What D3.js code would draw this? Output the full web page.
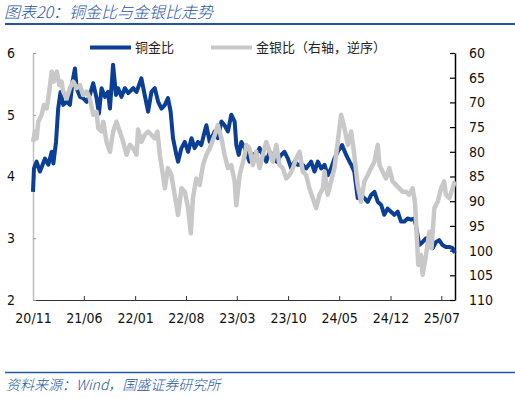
<!DOCTYPE html>
<html>
<head>
<meta charset="utf-8">
<script src="https://cdn.jsdelivr.net/npm/d3@7"></script>
<style>
body { margin: 0; background: #fff; }
svg { display: block; }
.tick text { font-family: "DejaVu Sans Condensed", "DejaVu Sans", sans-serif; font-size: 14px; fill: #111; }
.cn { font-family: "Noto Sans CJK SC", sans-serif; }
</style>
</head>
<body>
<svg id="chart"></svg>
<script>
// 铜金比 (left axis)
const cgDates = ["2020-11-01","2020-11-05","2020-11-16","2020-11-30","2020-12-21","2021-01-04","2021-01-18","2021-01-25","2021-02-05","2021-02-14","2021-02-24","2021-03-07","2021-03-21","2021-04-04","2021-04-15","2021-04-25","2021-05-02","2021-05-16","2021-05-29","2021-06-13","2021-06-26","2021-07-10","2021-07-24","2021-08-03","2021-08-14","2021-08-28","2021-09-10","2021-09-18","2021-10-01","2021-10-13","2021-10-22","2021-11-05","2021-11-19","2021-12-03","2021-12-24","2022-01-07","2022-01-27","2022-02-10","2022-02-24","2022-03-10","2022-03-24","2022-04-07","2022-04-21","2022-05-05","2022-05-18","2022-05-29","2022-06-08","2022-06-22","2022-06-29","2022-07-13","2022-07-27","2022-08-10","2022-08-24","2022-09-06","2022-09-20","2022-10-04","2022-10-18","2022-10-25","2022-11-08","2022-11-29","2022-12-12","2022-12-27","2023-01-09","2023-01-23","2023-02-06","2023-02-20","2023-02-27","2023-03-09","2023-03-20","2023-04-03","2023-04-23","2023-05-07","2023-05-28","2023-06-04","2023-06-18","2023-07-02","2023-07-16","2023-07-29","2023-08-13","2023-09-02","2023-09-16","2023-09-30","2023-10-14","2023-10-28","2023-11-10","2023-12-01","2023-12-15","2024-01-05","2024-01-19","2024-02-02","2024-02-16","2024-03-01","2024-03-14","2024-03-28","2024-04-11","2024-04-25","2024-05-13","2024-05-30","2024-06-13","2024-06-20","2024-07-03","2024-07-17","2024-07-31","2024-08-14","2024-08-28","2024-09-11","2024-09-25","2024-10-09","2024-10-23","2024-11-05","2024-11-19","2024-12-03","2024-12-17","2024-12-31","2025-01-14","2025-01-28","2025-02-10","2025-02-25","2025-03-10","2025-03-17","2025-03-31","2025-04-14","2025-04-28","2025-05-12","2025-05-26","2025-06-09","2025-06-22","2025-07-06","2025-07-20","2025-08-03","2025-08-17","2025-08-26"];
const cgValues = [3.75,4.13,4.24,4.08,4.29,4.19,4.40,4.21,4.56,5.10,5.37,5.16,5.21,5.16,5.54,5.75,5.43,5.29,5.27,5.21,5.32,5.51,5.27,5.02,5.43,5.29,5.37,5.10,5.81,5.32,5.43,5.29,5.43,5.35,5.43,5.37,5.59,5.32,5.05,5.37,5.43,5.21,5.10,5.16,5.27,5.05,4.62,4.35,4.24,4.46,4.56,4.40,4.62,4.46,4.56,4.51,4.73,4.83,4.56,4.73,4.62,4.89,4.83,4.73,5.00,4.89,4.51,4.35,4.56,4.46,4.24,4.35,4.40,4.46,4.35,4.24,4.40,4.35,4.24,4.35,4.40,4.29,4.13,4.24,4.19,4.19,4.13,4.24,4.08,4.24,4.13,4.19,4.02,4.13,4.29,4.40,4.51,4.35,4.24,4.19,4.08,3.65,3.70,3.65,3.59,3.70,3.75,3.59,3.54,3.38,3.48,3.43,3.38,3.43,3.27,3.27,3.32,3.30,3.32,3.21,2.89,2.94,3.00,2.89,2.84,2.94,2.97,2.89,2.86,2.86,2.84,2.76];

// 金银比 (right axis, reversed)
const gsDates = ["2020-11-01","2020-11-09","2020-11-16","2020-11-23","2020-12-07","2020-12-17","2020-12-28","2021-01-04","2021-01-11","2021-01-18","2021-01-27","2021-02-08","2021-02-19","2021-02-28","2021-03-07","2021-03-21","2021-04-04","2021-04-18","2021-05-02","2021-05-16","2021-05-29","2021-06-13","2021-06-26","2021-07-10","2021-07-24","2021-07-31","2021-08-14","2021-08-21","2021-09-04","2021-09-18","2021-10-01","2021-10-15","2021-10-29","2021-11-12","2021-11-26","2021-12-10","2021-12-24","2022-01-07","2022-01-13","2022-01-27","2022-02-10","2022-02-24","2022-03-10","2022-03-24","2022-04-04","2022-04-14","2022-04-27","2022-05-05","2022-05-18","2022-06-01","2022-06-15","2022-06-29","2022-07-13","2022-07-27","2022-08-10","2022-08-21","2022-08-30","2022-09-13","2022-09-27","2022-10-11","2022-10-25","2022-11-08","2022-11-29","2022-12-12","2022-12-27","2023-01-09","2023-01-23","2023-02-06","2023-02-20","2023-02-27","2023-03-13","2023-03-27","2023-04-03","2023-04-10","2023-04-23","2023-05-07","2023-05-21","2023-06-04","2023-06-18","2023-07-02","2023-07-16","2023-07-29","2023-08-13","2023-08-26","2023-09-09","2023-09-23","2023-10-07","2023-10-21","2023-11-04","2023-11-18","2023-12-01","2023-12-15","2023-12-29","2024-01-12","2024-01-26","2024-02-09","2024-02-23","2024-03-01","2024-03-14","2024-03-28","2024-04-11","2024-04-25","2024-05-09","2024-05-23","2024-06-06","2024-06-20","2024-07-03","2024-07-17","2024-07-31","2024-08-14","2024-08-28","2024-09-11","2024-09-25","2024-10-09","2024-10-16","2024-10-29","2024-11-12","2024-11-26","2024-12-10","2024-12-24","2025-01-07","2025-01-21","2025-02-04","2025-02-17","2025-03-03","2025-03-13","2025-03-21","2025-03-27","2025-04-07","2025-04-14","2025-04-28","2025-05-12","2025-05-21","2025-06-02","2025-06-16","2025-06-30","2025-07-13","2025-07-20","2025-08-03","2025-08-17","2025-08-26"];
const gsValues = [78.0,75.9,77.3,73.9,72.5,70.5,71.2,69.2,66.5,63.8,65.8,63.8,66.5,65.8,67.8,69.2,67.1,65.8,67.1,66.5,68.5,67.8,69.2,72.5,71.9,75.2,75.9,73.9,78.0,80.0,75.9,73.9,75.9,78.0,80.6,78.6,79.3,80.6,75.5,78.0,76.6,75.9,76.6,77.3,75.9,80.6,84.7,87.4,83.3,84.7,88.7,92.8,87.4,88.1,91.4,96.5,89.4,85.4,86.7,82.7,80.6,79.3,76.6,74.6,77.3,80.6,83.3,82.7,86.0,90.8,84.7,82.0,80.6,78.6,79.3,82.7,80.0,83.3,80.6,78.0,80.0,82.0,78.6,82.7,83.3,85.4,84.7,83.3,81.3,80.0,84.0,84.7,87.4,89.4,91.4,88.7,87.4,84.0,88.7,86.0,83.3,78.0,72.5,75.2,78.6,75.9,80.6,86.7,90.1,86.0,84.7,83.3,82.0,78.6,82.7,84.0,85.4,83.3,86.0,86.7,87.4,88.1,88.1,88.7,87.4,90.1,97.5,102.9,100.9,104.9,100.9,96.2,99.5,91.4,90.1,87.4,86.0,88.7,89.4,87.4,86.0];

const xTicks = ["2020-11-01","2021-06-01","2022-01-01","2022-08-01","2023-03-01","2023-10-01","2024-05-01","2024-12-01","2025-07-01"];
const leftTicks = [2, 3, 4, 5, 6];
const rightTicks = [60, 65, 70, 75, 80, 85, 90, 95, 100, 105, 110];

const width = 515, height = 398;
const blue = "#0b3f95", grey = "#c8c8c8", titleBlue = "#2455a3";
const parse = d3.timeParse("%Y-%m-%d");

const svg = d3.select("#chart").attr("width", width).attr("height", height);

const x = d3.scaleTime()
    .domain([parse("2020-11-01"), parse("2025-08-27")])
    .range([33, 455]);
const yL = d3.scaleLinear().domain([2, 6]).range([300, 53]);
const yR = d3.scaleLinear().domain([60, 110]).range([53, 300]);

// title and source
svg.append("text").attr("class", "cn")
    .attr("x", 4).attr("y", 18)
    .style("font-size", "16px").style("font-style", "italic").style("font-weight", 300)
    .attr("fill", titleBlue)
    .text("图表20：铜金比与金银比走势");
svg.append("line").attr("x1", 5).attr("x2", 515).attr("y1", 24).attr("y2", 24)
    .attr("stroke", titleBlue).attr("stroke-width", 2);
svg.append("line").attr("x1", 5).attr("x2", 515).attr("y1", 372.5).attr("y2", 372.5)
    .attr("stroke", titleBlue).attr("stroke-width", 1.5);
svg.append("text").attr("class", "cn")
    .attr("x", 6).attr("y", 390)
    .style("font-size", "14px").style("font-style", "italic").style("font-weight", 300)
    .attr("fill", titleBlue)
    .text("资料来源：Wind，国盛证券研究所");

// axes
svg.append("g")
    .attr("transform", "translate(0,300)")
    .call(d3.axisBottom(x).tickValues(xTicks.map(parse))
        .tickFormat(d3.timeFormat("%y/%m")).tickSize(-4).tickSizeOuter(0).tickPadding(13))
    .call(g => g.select(".domain").attr("stroke", "#333"))
    .call(g => g.selectAll(".tick line").attr("stroke", "#333"));

svg.append("g")
    .attr("transform", "translate(33,0)")
    .call(d3.axisLeft(yL).tickValues(leftTicks).tickFormat(d3.format("d"))
        .tickSize(-3).tickSizeOuter(0).tickPadding(18))
    .call(g => g.select(".domain").attr("stroke", "#bfbfbf").attr("stroke-width", 1.5))
    .call(g => g.selectAll(".tick line").attr("stroke", "#999"));

svg.append("g")
    .attr("transform", "translate(455,0)")
    .call(d3.axisRight(yR).tickValues(rightTicks).tickFormat(d3.format("d"))
        .tickSize(-5).tickSizeOuter(0).tickPadding(14))
    .call(g => g.select(".domain").attr("stroke", "#000").attr("stroke-width", 1.5))
    .call(g => g.selectAll(".tick line").attr("stroke", "#000").attr("stroke-width", 1.2));

// lines
const cgData = cgDates.map((d, i) => ({ date: parse(d), value: cgValues[i] }));
const gsData = gsDates.map((d, i) => ({ date: parse(d), value: gsValues[i] }));

svg.append("path").datum(cgData)
    .attr("fill", "none").attr("stroke", blue).attr("stroke-width", 4)
    .attr("stroke-linejoin", "round")
    .attr("d", d3.line().x(d => x(d.date)).y(d => yL(d.value)));

svg.append("path").datum(gsData)
    .attr("fill", "none").attr("stroke", grey).attr("stroke-width", 4.5)
    .attr("stroke-linejoin", "round")
    .attr("d", d3.line().x(d => x(d.date)).y(d => yR(d.value)));

// legend
const legend = [
    { label: "铜金比", color: blue, x: 90 },
    { label: "金银比（右轴，逆序）", color: grey, x: 211 }
];
legend.forEach(l => {
    svg.append("line").attr("x1", l.x).attr("x2", l.x + 41).attr("y1", 47.5).attr("y2", 47.5)
        .attr("stroke", l.color).attr("stroke-width", 4);
    svg.append("text").attr("class", "cn")
        .attr("x", l.x + 45).attr("y", 52)
        .style("font-size", "13px").attr("fill", "#222")
        .text(l.label);
});
</script>
</body>
</html>
